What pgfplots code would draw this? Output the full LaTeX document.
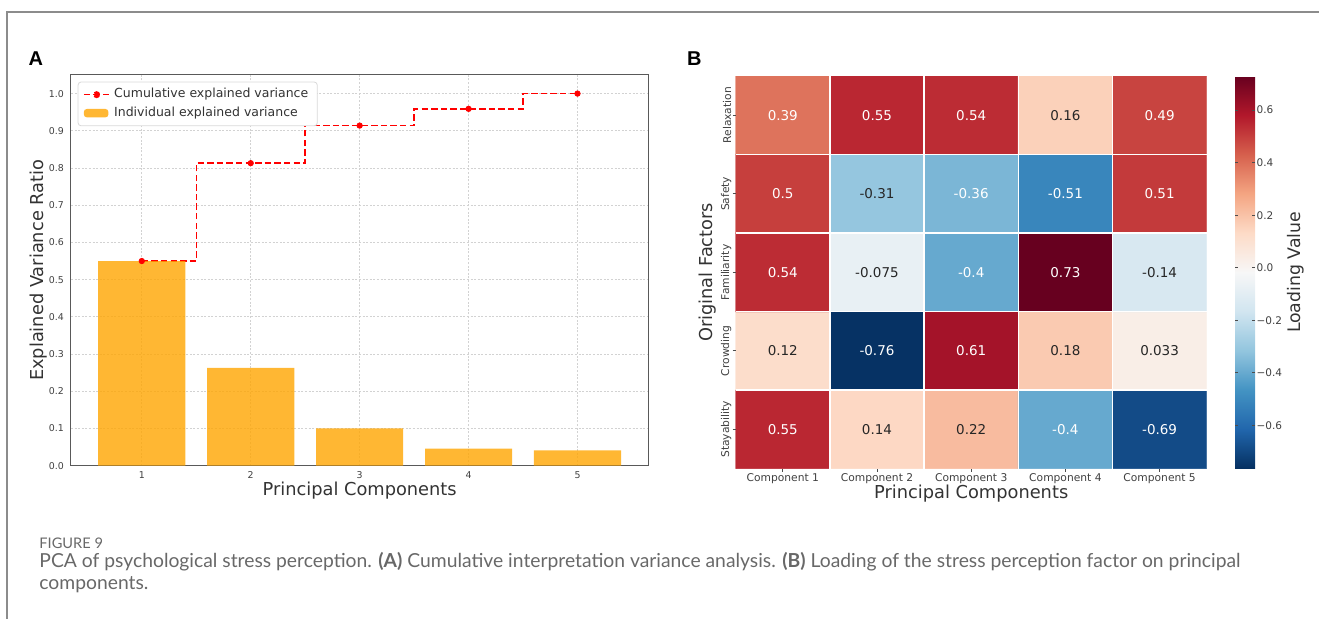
\documentclass[border=0pt]{standalone}
\usepackage{pgfplots}
\pgfplotsset{compat=1.18}
\usepackage{pgfplotstable}
\usepackage{fontspec}
\setmainfont{DejaVu Sans}
\newfontfamily\arialfont{Liberation Sans}
\newfontfamily\capfont{Lato}
\definecolor{barorange}{RGB}{255,165,0}
\definecolor{stepred}{RGB}{255,0,0}
\definecolor{txt}{HTML}{333333}
\definecolor{ticktxt}{HTML}{404040}
\definecolor{annodark}{HTML}{262626}
\definecolor{capgray}{HTML}{686868}
\definecolor{framegray}{HTML}{8C8C8C}

\pgfplotstableread{
x y
1 0.550
2 0.263
3 0.100
4 0.046
5 0.041
}\indiv

\pgfplotstableread{
x y
1 0.550
2 0.813
3 0.914
4 0.959
5 1.000
}\cumul

% rows: y=0 Stayability ... y=4 Relaxation
\pgfplotstableread{
x y c
0 0 0.55
1 0 0.14
2 0 0.22
3 0 -0.40
4 0 -0.69
0 1 0.12
1 1 -0.76
2 1 0.61
3 1 0.18
4 1 0.033
0 2 0.54
1 2 -0.075
2 2 -0.40
3 2 0.73
4 2 -0.14
0 3 0.50
1 3 -0.31
2 3 -0.36
3 3 -0.51
4 3 0.51
0 4 0.39
1 4 0.55
2 4 0.54
3 4 0.16
4 4 0.49
}\loadings

\pgfplotstableread{
x y label
0 4 0.39
1 4 0.55
2 4 0.54
4 4 0.49
0 3 0.5
2 3 -0.36
3 3 -0.51
4 3 0.51
0 2 0.54
2 2 -0.4
3 2 0.73
1 1 -0.76
2 1 0.61
0 0 0.55
3 0 -0.4
4 0 -0.69
}\whitelabels

\pgfplotstableread{
x y label
3 4 0.16
1 3 -0.31
1 2 -0.075
4 2 -0.14
0 1 0.12
3 1 0.18
4 1 0.033
1 0 0.14
2 0 0.22
}\darklabels

\begin{document}
\begin{tikzpicture}
\path[use as bounding box] (0,0) rectangle (659.5pt,309.5pt);
% frame
\draw[framegray, line width=0.7pt] (3.5pt,0pt) -- (3.5pt,303.5pt) -- (659.5pt,303.5pt);

% ---------------- Panel A ----------------
\begin{axis}[
  scale only axis, anchor=south west, at={(35.5pt,76.65pt)},
  width=288.65pt, height=195.35pt,
  xmin=0.35, xmax=5.65, ymin=0, ymax=1.05,
  xtick={1,2,3,4,5},
  ytick={0,0.1,0.2,0.3,0.4,0.5,0.6,0.7,0.8,0.9,1.0},
  /pgf/number format/assume math mode=true,
  yticklabel={\pgfmathprintnumber[fixed,fixed zerofill,precision=1]{\tick}},
  ticklabel style={font=\fontsize{4.7}{5.5}\selectfont, text=ticktxt},
  xticklabel style={yshift=0.8pt},
  major tick length=0pt,
  grid=major,
  grid style={gray!35, dash pattern=on 1pt off 0.8pt, line width=0.4pt},
  axis line style={draw=gray!70!black, line width=0.5pt},
  xlabel={Principal Components},
  ylabel={Explained Variance Ratio},
  label style={font=\fontsize{8.9}{10}\selectfont, text=txt},
  xlabel style={at={(axis description cs:0.5,-0.063)}, anchor=center},
  ylabel style={at={(axis description cs:-0.057,0.5)}, anchor=center},
  legend style={at={(0.0116,0.983)}, anchor=north west, draw=gray!30, fill=white,
    font=\fontsize{6.25}{7}\selectfont, text=txt, rounded corners=1.5pt,
    inner xsep=2.5pt, inner ysep=1.2pt, row sep=-1pt},
  legend cell align=left,
]
\addplot[color=stepred, draw=stepred, line width=0.75pt, dash pattern=on 3.2pt off 1.6pt, const plot mark mid,
  no markers,
  legend image code/.code={\draw[draw=stepred, line width=0.75pt, dash pattern=on 3.2pt off 1.6pt] (0pt,0pt) -- (12.8pt,0pt); \fill[stepred] (6.4pt,0pt) circle (1.35pt);}]
  table[x=x, y=y] {\cumul};
\addlegendentry{Cumulative explained variance}
\addplot[ybar, bar width=0.8, fill=barorange, fill opacity=0.8, draw=none,
  legend image code/.code={\fill[barorange, fill opacity=0.8] (0pt,-2.1pt) rectangle (12.3pt,2.1pt);}]
  table[x=x, y=y] {\indiv};
\addlegendentry{Individual explained variance}
\addplot[only marks, forget plot, mark=*, mark size=1.35pt, mark options={solid, fill=stepred, draw=stepred}]
  table[x=x, y=y] {\cumul};
\end{axis}

% ---------------- Panel B ----------------
\begin{axis}[
  scale only axis, anchor=south west, at={(367.85pt,75.15pt)},
  width=235.5pt, height=196.35pt,
  xmin=-0.5, xmax=4.5, ymin=-0.5, ymax=4.5,
  enlargelimits=false,
  axis line style={draw=none},
  xtick={0,1,2,3,4},
  xticklabels={Component 1,Component 2,Component 3,Component 4,Component 5},
  ytick={0,1,2,3,4},
  yticklabels={Stayability,Crowding,Familiarity,Safety,Relaxation},
  ticklabel style={font=\fontsize{5.35}{6}\selectfont, text=ticktxt, inner sep=0.5pt},
  yticklabel style={rotate=90, anchor=south},
  tick align=outside, xtick pos=bottom, ytick pos=left,
  major tick length=1.5pt,
  major tick style={draw=gray!60!black, line width=0.4pt},
  minor xtick={0.5,1.5,2.5,3.5}, minor ytick={0.5,1.5,2.5,3.5},
  minor tick length=0pt,
  xminorgrids=true, yminorgrids=true,
  minor grid style={white, line width=0.7pt},
  axis on top,
  colormap={rdbur}{rgb255=(5,48,97) rgb255=(33,102,172) rgb255=(67,147,195) rgb255=(146,197,222) rgb255=(209,229,240) rgb255=(247,247,247) rgb255=(253,219,199) rgb255=(244,165,130) rgb255=(214,96,77) rgb255=(178,24,43) rgb255=(103,0,31)},
  point meta min=-0.765, point meta max=0.73,
  xlabel={Principal Components},
  ylabel={Original Factors},
  label style={font=\fontsize{8.9}{10}\selectfont, text=txt},
  xlabel style={at={(axis description cs:0.5,-0.0645)}, anchor=center},
  ylabel style={at={(axis description cs:-0.0588,0.5)}, anchor=center},
  colorbar,
  colorbar style={
    at={(parent axis.north east)}, anchor=north west, xshift=5.65pt,
    scale only axis, width=10pt, height=196.35pt,
    axis line style={draw=none},
    ytick={-0.6,-0.4,-0.2,0,0.2,0.4,0.6},
    yticklabels={−0.6,−0.4,−0.2,0.0,0.2,0.4,0.6},
    yticklabel style={font=\fontsize{5.25}{6}\selectfont, text=ticktxt, inner sep=0.6pt},
    major tick length=1.5pt,
    major tick style={draw=gray!60!black, line width=0.4pt},
    ylabel={Loading Value},
    ylabel style={at={(axis description cs:3.03,0.5)}, anchor=center,
      font=\fontsize{8.65}{10}\selectfont, text=txt},
  },
]
\addplot[matrix plot*, shader=flat corner, mesh/cols=5, point meta=explicit]
  table[x=x, y=y, meta=c] {\loadings};
\addplot[draw=none, forget plot, point meta=explicit symbolic,
  nodes near coords, nodes near coords align={center},
  every node near coord/.append style={text=white, font=\fontsize{6.75}{8}\selectfont}]
  table[x=x, y=y, meta=label] {\whitelabels};
\addplot[draw=none, forget plot, point meta=explicit symbolic,
  nodes near coords, nodes near coords align={center},
  every node near coord/.append style={text=annodark, font=\fontsize{6.75}{8}\selectfont}]
  table[x=x, y=y, meta=label] {\darklabels};
\end{axis}

% panel letters
\node[anchor=base west, inner sep=0pt, font=\arialfont\bfseries\fontsize{10}{12}\selectfont] at (14.15pt,276.5pt) {A};
\node[anchor=base west, inner sep=0pt, font=\arialfont\bfseries\fontsize{10}{12}\selectfont] at (343.35pt,276.5pt) {B};

% caption
\node[anchor=base west, inner sep=0pt, text=capgray, font=\capfont\fontsize{7.3}{8}\selectfont] at (19.5pt,35pt) {FIGURE 9};
\node[anchor=base west, inner sep=0pt, text=capgray, font=\capfont\fontsize{9.65}{11}\selectfont] at (19.5pt,25.5pt) {PCA of psychological stress perception. \textbf{(A)} Cumulative interpretation variance analysis. \textbf{(B)} Loading of the stress perception factor on principal};
\node[anchor=base west, inner sep=0pt, text=capgray, font=\capfont\fontsize{9.65}{11}\selectfont] at (19.5pt,14.5pt) {components.};
\end{tikzpicture}
\end{document}
